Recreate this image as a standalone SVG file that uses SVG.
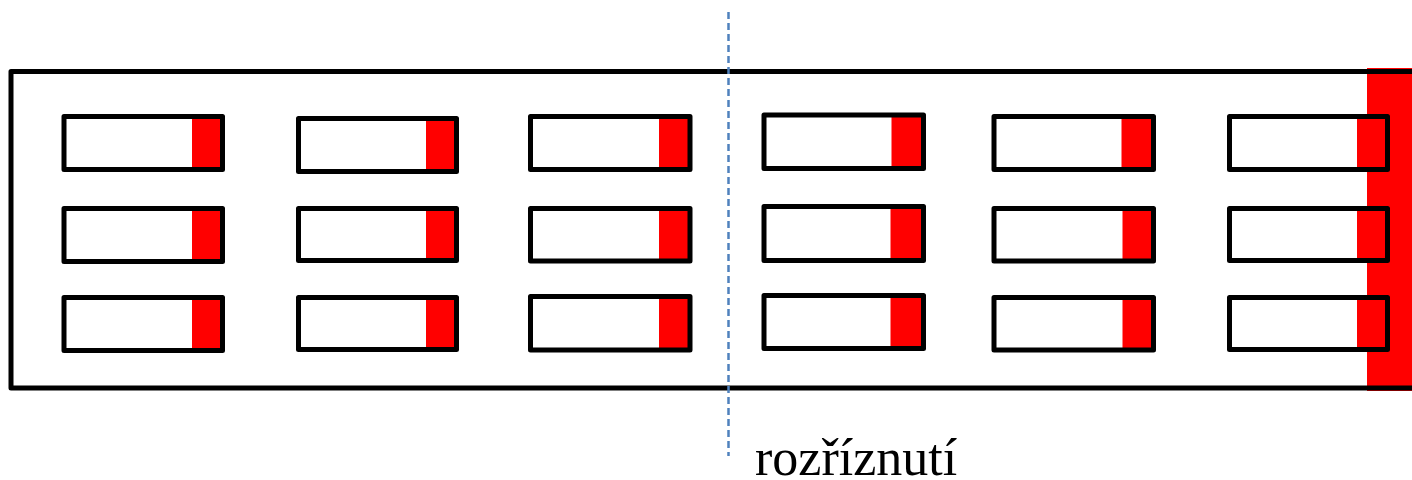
<svg xmlns="http://www.w3.org/2000/svg" width="1412" height="480" viewBox="0 0 1412 480">
<style>
.box{fill:none;stroke:#000;stroke-width:5;stroke-linejoin:round}
.red{fill:#ff0000}
.cut{stroke:#4f81bd;stroke-width:2.5;stroke-dasharray:7 4;fill:none}
.lbl{font-family:"Liberation Serif","Times New Roman",serif;font-size:52px;fill:#000}
</style>
<rect x="0" y="0" width="1412" height="480" fill="#fff"/>
<g id="strip">
<rect class="red" x="1367" y="68" width="50" height="323"/>
<rect class="box" x="11" y="71.5" width="1410" height="316.5"/>
</g>
<g id="col1">
<g id="c1r1"><rect class="red" x="192" y="116.5" width="30.5" height="53"/><rect class="box" x="64" y="116.5" width="158.5" height="53"/></g>
<g id="c1r2"><rect class="red" x="192" y="208.5" width="30.5" height="53"/><rect class="box" x="64" y="208.5" width="158.5" height="53"/></g>
<g id="c1r3"><rect class="red" x="192" y="297.5" width="30.5" height="53"/><rect class="box" x="64" y="297.5" width="158.5" height="53"/></g>
</g>
<g id="col2">
<g id="c2r1"><rect class="red" x="426" y="118.5" width="30.5" height="53"/><rect class="box" x="298.5" y="118.5" width="158" height="53"/></g>
<g id="c2r2"><rect class="red" x="426" y="208.5" width="30.5" height="52"/><rect class="box" x="298.5" y="208.5" width="158" height="52"/></g>
<g id="c2r3"><rect class="red" x="426" y="297.5" width="30.5" height="52"/><rect class="box" x="298.5" y="297.5" width="158" height="52"/></g>
</g>
<g id="col3">
<g id="c3r1"><rect class="red" x="659" y="116.5" width="31" height="53"/><rect class="box" x="530.5" y="116.5" width="159.5" height="53"/></g>
<g id="c3r2"><rect class="red" x="659" y="208.5" width="31" height="52.5"/><rect class="box" x="530.5" y="208.5" width="159.5" height="52.5"/></g>
<g id="c3r3"><rect class="red" x="659" y="296.5" width="31" height="53.5"/><rect class="box" x="530.5" y="296.5" width="159.5" height="53.5"/></g>
</g>
<g id="col4">
<g id="c4r1"><rect class="red" x="891.5" y="115" width="32" height="53.5"/><rect class="box" x="764" y="115" width="159.5" height="53.5"/></g>
<g id="c4r2"><rect class="red" x="890.5" y="206.5" width="33" height="54"/><rect class="box" x="764" y="206.5" width="159.5" height="54"/></g>
<g id="c4r3"><rect class="red" x="890.5" y="295.5" width="33" height="53"/><rect class="box" x="764" y="295.5" width="159.5" height="53"/></g>
</g>
<g id="col5">
<g id="c5r1"><rect class="red" x="1121.5" y="116.5" width="32" height="53"/><rect class="box" x="994" y="116.5" width="159.5" height="53"/></g>
<g id="c5r2"><rect class="red" x="1122.5" y="208.5" width="31" height="52.5"/><rect class="box" x="994" y="208.5" width="159.5" height="52.5"/></g>
<g id="c5r3"><rect class="red" x="1122.5" y="297.5" width="31" height="52.5"/><rect class="box" x="994" y="297.5" width="159.5" height="52.5"/></g>
</g>
<g id="col6">
<g id="c6r1"><rect class="red" x="1357" y="116.5" width="30.5" height="53"/><rect class="box" x="1229.5" y="116.5" width="158" height="53"/></g>
<g id="c6r2"><rect class="red" x="1357" y="208.5" width="30.5" height="52"/><rect class="box" x="1229.5" y="208.5" width="158" height="52"/></g>
<g id="c6r3"><rect class="red" x="1357" y="297.5" width="30.5" height="52"/><rect class="box" x="1229.5" y="297.5" width="158" height="52"/></g>
</g>
<g id="connectors">
<line class="cut" x1="728.5" y1="12" x2="728.5" y2="456"/>
</g>
<g id="label">
<text class="lbl" x="755" y="475">rozříznutí</text>
</g>
</svg>
